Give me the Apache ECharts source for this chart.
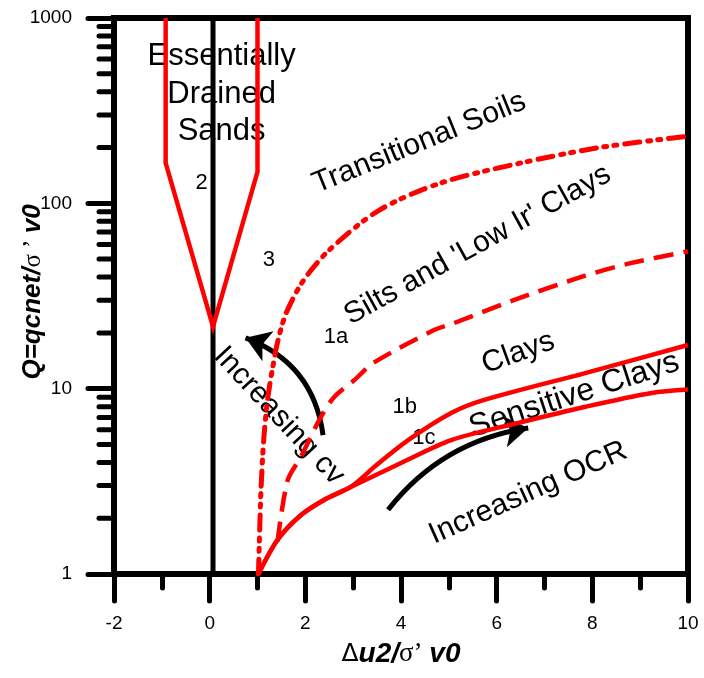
<!DOCTYPE html>
<html>
<head>
<meta charset="utf-8">
<script src="https://cdn.jsdelivr.net/npm/echarts@6/dist/echarts.min.js"></script>
<style>
html,body{margin:0;padding:0;background:#fff;}
#chart{width:704px;height:678px;}
</style>
</head>
<body>
<div id="chart"></div>
<script>
// ---- data ----
const xTickLabels = ['-2','0','2','4','6','8','10'];
const yTickLabels = ['1','10','100','1000'];
const yMinorTickValues = [2,3,4,5,6,7,8,9,20,30,40,50,60,70,80,90,200,300,400,500,600,700,800,900];

// zone 2 boundary (essentially drained sands)
const zone2Boundary = [[-0.92,1000],[-0.92,165],[0.07,21.6],[1.0,148],[1.0,1000]];
// vertical reference line at du2 = 0
const zeroLine = [[0.07,1],[0.07,1000]];
// boundary 3 (transitional soils), dash-dot-dot
const boundary3 = [[1.02,1],[1.07,2.7],[1.13,5.3],[1.21,8.7],[1.32,13.1],[1.43,18.3],[1.6,25.6],[1.95,38],[2.5,56],[3.55,92],[4.84,129],[6.5,165],[8.2,201],[10,230]];
// boundary 1a, dashed
const boundary1a = [[1.42,1.5],[1.63,3.2],[1.91,4.3],[2.32,7.0],[2.6,9.0],[3.02,11.1],[3.43,13.8],[4.69,20.7],[5.11,22.6],[6.37,30.1],[7.77,40.1],[8.82,47.7],[10,55]];
// boundary 1b, solid
const boundary1b = [[1.02,1],[1.42,1.53],[1.91,2.08],[2.39,2.51],[2.95,2.95],[3.5,3.9],[4.15,5.28],[5.05,7.39],[5.74,8.69],[7.83,12.1],[10,17.2]];
// boundary 1c, solid
const boundary1c = [[1.02,1],[1.42,1.53],[1.91,2.08],[2.39,2.51],[2.95,2.95],[4.0,3.97],[5.05,5.28],[6.45,6.53],[7.83,7.96],[9.24,9.48],[10,9.9]];
// stray dot
const strayDot = [[1.07,2.73]];
// arrows [start, end]
const cvArrow = [[2.37,5.62],[0.75,18.8]];
const ocrArrow = [[3.73,2.22],[6.66,6.14]];

// annotations: text, position (data coords), rotation (deg), font size
const annoText = ['Essentially\nDrained\nSands','2','3','1a','1b','1c','Transitional Soils',"Silts and 'Low Ir' Clays",'Clays','Sensitive Clays','Increasing OCR','Increasing cv'];
const annoPos = [[0.25,389],[-0.17,129],[1.24,49.5],[2.64,19.0],[4.08,7.96],[4.48,5.42],[4.38,212],[5.6,59.6],[6.45,15.6],[7.62,9.25],[6.66,2.74],[1.45,7.12]];
const annoRotate = [0,0,0,0,0,0,22,29,20,18,24,-47];
const annoSize = [31,22,22,22,22,22,30,30,30,32,30,30];

const RED = '#ff0000';
const FONT = "'Liberation Sans', Arial, sans-serif";

const chart = echarts.init(document.getElementById('chart'), null, {renderer:'canvas'});

const annoData = annoText.map((t,i)=>({
  value: annoPos[i],
  label: {show:true, formatter:t, rotate:annoRotate[i], fontSize:annoSize[i], lineHeight: annoSize[i]*1.2,
    color:'#000', opacity:1, fontFamily:FONT, position:'inside', align:'center', verticalAlign:'middle'}
}));

const option = {
  animation:false,
  backgroundColor:'#fff',
  grid:{left:114, right:16, top:18, bottom:104, containLabel:false, outerBoundsMode:'none'},
  xAxis:[{
    type:'value', min:-2, max:10, interval:2,
    axisLine:{show:true, onZero:false, lineStyle:{color:'#000', width:6, cap:'square'}},
    axisTick:{show:true, inside:false, length:27, lineStyle:{color:'#000', width:5, cap:'round'}},
    minorTick:{show:true, splitNumber:2, length:14, lineStyle:{color:'#000', width:5, cap:'round'}},
    splitLine:{show:false},
    axisLabel:{margin:40, color:'#000', fontSize:19, fontFamily:FONT,
      formatter:(v)=>{ const s = String(Math.round(v)); return xTickLabels.indexOf(s)>=0 ? s : ''; }},
    name:'{d|\u0394}{b|u2/}{s|\u03c3\u2019 }{b|v0}',
    nameLocation:'middle', nameGap:66, nameMoveOverlap:false,
    nameTextStyle:{rich:{
      d:{fontFamily:"'DejaVu Sans', sans-serif", fontSize:25, color:'#000', fontWeight:'normal'},
      b:{fontFamily:FONT, fontSize:28, fontWeight:'bold', fontStyle:'italic', color:'#000'},
      s:{fontFamily:"'Liberation Serif', serif", fontSize:27, color:'#000', fontWeight:'normal'}
    }}
  },{
    type:'value', min:-2, max:10, position:'top',
    axisLine:{show:true, onZero:false, lineStyle:{color:'#000', width:6, cap:'square'}},
    axisTick:{show:false}, axisLabel:{show:false}, splitLine:{show:false}
  }],
  yAxis:[{
    type:'log', logBase:10, min:1, max:1000,
    axisLine:{show:true, onZero:false, lineStyle:{color:'#000', width:6, cap:'square'}},
    axisTick:{show:true, inside:false, length:26, lineStyle:{color:'#000', width:5, cap:'round'}},
    splitLine:{show:false},
    axisLabel:{margin:42, color:'#000', fontSize:19, fontFamily:FONT,
      formatter:(v)=>{ const s = String(Math.round(v)); return yTickLabels.indexOf(s)>=0 ? s : ''; }},
    name:'{b|Q=qcnet/}{s|\u03c3 \u2019 }{b|v0}',
    nameLocation:'middle', nameGap:68, nameMoveOverlap:false,
    nameTextStyle:{padding:[0,0,0,8], rich:{
      b:{fontFamily:FONT, fontSize:26, fontWeight:'bold', fontStyle:'italic', color:'#000'},
      s:{fontFamily:"'Liberation Serif', serif", fontSize:25, color:'#000', fontWeight:'normal'}
    }}
  },{
    type:'log', logBase:10, min:1, max:1000, position:'right',
    axisLine:{show:true, onZero:false, lineStyle:{color:'#000', width:6, cap:'square'}},
    axisTick:{show:false}, axisLabel:{show:false}, splitLine:{show:false}
  }],
  series:[
    {type:'custom', silent:true, clip:false, data: yMinorTickValues.map(v=>[-2, v]),
      renderItem:(params, api)=>{
        const p = api.coord([api.value(0), api.value(1)]);
        return {type:'line', shape:{x1:p[0]-15, y1:p[1], x2:p[0], y2:p[1]},
          style:{stroke:'#000', lineWidth:5, lineCap:'round'}};
      }},
    {type:'line', silent:true, data:zeroLine, symbol:'none', lineStyle:{color:'#000', width:5}},
    {type:'line', silent:true, data:zone2Boundary, symbol:'none', lineStyle:{color:RED, width:4.5, join:'miter'}},
    {type:'line', silent:true, data:boundary3, symbol:'none', smooth:0.3, lineStyle:{color:RED, width:5, type:[15,8,3,7,3,8], cap:'round'}},
    {type:'line', silent:true, data:boundary1a, symbol:'none', smooth:0.3, lineStyle:{color:RED, width:4.5, type:[20,10]}},
    {type:'line', silent:true, data:boundary1b, symbol:'none', smooth:0.3, lineStyle:{color:RED, width:4.5}},
    {type:'line', silent:true, data:boundary1c, symbol:'none', smooth:0.3, lineStyle:{color:RED, width:4.5}},
    {type:'scatter', silent:true, data:strayDot, symbolSize:4, itemStyle:{color:'#000', opacity:1}},
    {type:'lines', coordinateSystem:'cartesian2d', silent:true,
      symbol:['none','arrow'], symbolSize:24,
      lineStyle:{color:'#000', width:5, curveness:-0.3, opacity:1},
      data:[{coords:cvArrow}]},
    {type:'lines', coordinateSystem:'cartesian2d', silent:true,
      symbol:['none','arrow'], symbolSize:24,
      lineStyle:{color:'#000', width:5, curveness:0.2, opacity:1},
      data:[{coords:ocrArrow}]},
    {type:'scatter', silent:true, symbolSize:0, data:annoData, itemStyle:{opacity:1},
      label:{show:true, position:'inside', color:'#000', fontFamily:FONT, align:'center', verticalAlign:'middle'}}
  ]
};
chart.setOption(option);
</script>
</body>
</html>
